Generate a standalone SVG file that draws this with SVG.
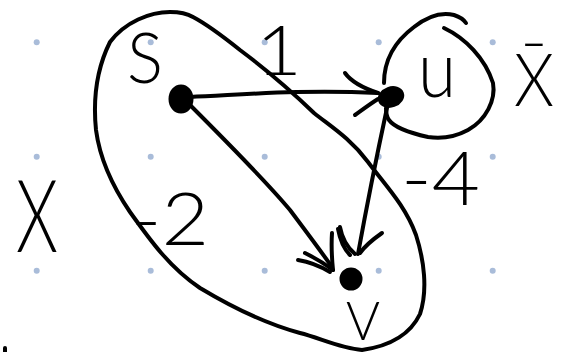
<svg xmlns="http://www.w3.org/2000/svg" width="562" height="352" viewBox="0 0 562 352">
<style>
.ink{fill:none;stroke:#000;stroke-width:4;stroke-linecap:round;stroke-linejoin:round}
.dot{fill:#a9bcd9}
.lbl{font-family:"Lato","Liberation Sans","DejaVu Sans",sans-serif;font-weight:300;fill:#000}
.node{fill:#000;stroke:#000;stroke-width:3}
</style>
<rect width="562" height="352" fill="#fff"/>
<g id="grid">
<circle class="dot" cx="36.7" cy="42.3" r="3"/><circle class="dot" cx="150.7" cy="42.3" r="3"/><circle class="dot" cx="264.7" cy="42.3" r="3"/><circle class="dot" cx="378.7" cy="42.3" r="3"/><circle class="dot" cx="492.7" cy="42.3" r="3"/>
<circle class="dot" cx="36.7" cy="156.7" r="3"/><circle class="dot" cx="150.7" cy="156.7" r="3"/><circle class="dot" cx="264.7" cy="156.7" r="3"/><circle class="dot" cx="378.7" cy="156.7" r="3"/><circle class="dot" cx="492.7" cy="156.7" r="3"/>
<circle class="dot" cx="36.7" cy="270.7" r="3"/><circle class="dot" cx="150.7" cy="270.7" r="3"/><circle class="dot" cx="264.7" cy="270.7" r="3"/><circle class="dot" cx="378.7" cy="270.7" r="3"/><circle class="dot" cx="492.7" cy="270.7" r="3"/>
</g>
<g id="cut-X">
<path class="ink" d="M193,17 C210,26 225,38 240,50 C260,65 285,85 314,113 C330,126 350,138 368,162 C385,185 405,205 416,235 C424,260 428,290 420,314 C410,335 390,346 362,350 C340,348 320,338 300,333 C270,325 240,312 200,288 C170,268 150,240 130,212 C115,190 100,160 96,130 C93,100 96,70 110,42 C125,22 150,12 170,12 C180,12 188,14 193,17"/>
</g>
<g id="cut-Xbar">
<path class="ink" d="M384,83 C384,62 394,42 414,27 C428,16 442,12 454,15 C460,17 464,20 466,23"/>
<path class="ink" d="M444,28 C465,38 485,58 493,83 C496,100 486,120 468,130 C455,137 441,139 428,137 C410,133 394,127 389,120 C386,116 386,112 386,108"/>
</g>
<g id="connectors">
<path class="ink" d="M190,97 C240,95 300,89 378,93"/>
<path class="ink" d="M345,73 C350,80 360,87 378,93"/>
<path class="ink" d="M355,115 C362,110 370,104 378,99"/>
<path class="ink" d="M190,105 C225,140 265,180 290,210 C305,230 320,250 332,267"/>
<path class="ink" d="M298,260 C310,262 320,266 330,272"/>
<path class="ink" d="M305,253 C315,258 325,264 333,270"/>
<path class="ink" d="M332,233 C331,248 332,260 333,270"/>
<path class="ink" d="M340,227 C342,238 348,248 355,254"/>
<path class="ink" d="M338,229 C340,240 345,250 350,255"/>
<path class="ink" d="M387,108 C378,150 366,210 358,254"/>
<path class="ink" d="M382,233 C372,240 365,246 360,253"/>
</g>
<g id="node-S">
<ellipse class="node" cx="181" cy="99" rx="11" ry="13"/>
<text class="lbl" x="127" y="83" font-size="70" textLength="36" lengthAdjust="spacingAndGlyphs">S</text>
</g>
<g id="node-u">
<ellipse class="node" cx="391" cy="97" rx="12" ry="9" transform="rotate(-20 391 97)"/>
<text class="lbl" x="418" y="97" font-size="78" textLength="38" lengthAdjust="spacingAndGlyphs">u</text>
</g>
<g id="node-V">
<circle class="node" cx="351" cy="279" r="10"/>
<text class="lbl" x="346" y="340" font-size="54" textLength="34" lengthAdjust="spacingAndGlyphs">V</text>
</g>
<g id="labels">
<text class="lbl" x="256" y="75" font-size="68" textLength="46" lengthAdjust="spacingAndGlyphs">1</text>
<text class="lbl" x="514" y="106" font-size="72" textLength="40" lengthAdjust="spacingAndGlyphs">X̄</text>
<text class="lbl" x="16" y="252" font-size="100" textLength="42" lengthAdjust="spacingAndGlyphs">X</text>
<text class="lbl" x="131" y="245" font-size="72" textLength="78" lengthAdjust="spacingAndGlyphs">-2</text>
<text class="lbl" x="401" y="205" font-size="74" textLength="79" lengthAdjust="spacingAndGlyphs">-4</text>
</g>
<path class="ink" d="M5,348 L5,352"/>
</svg>
